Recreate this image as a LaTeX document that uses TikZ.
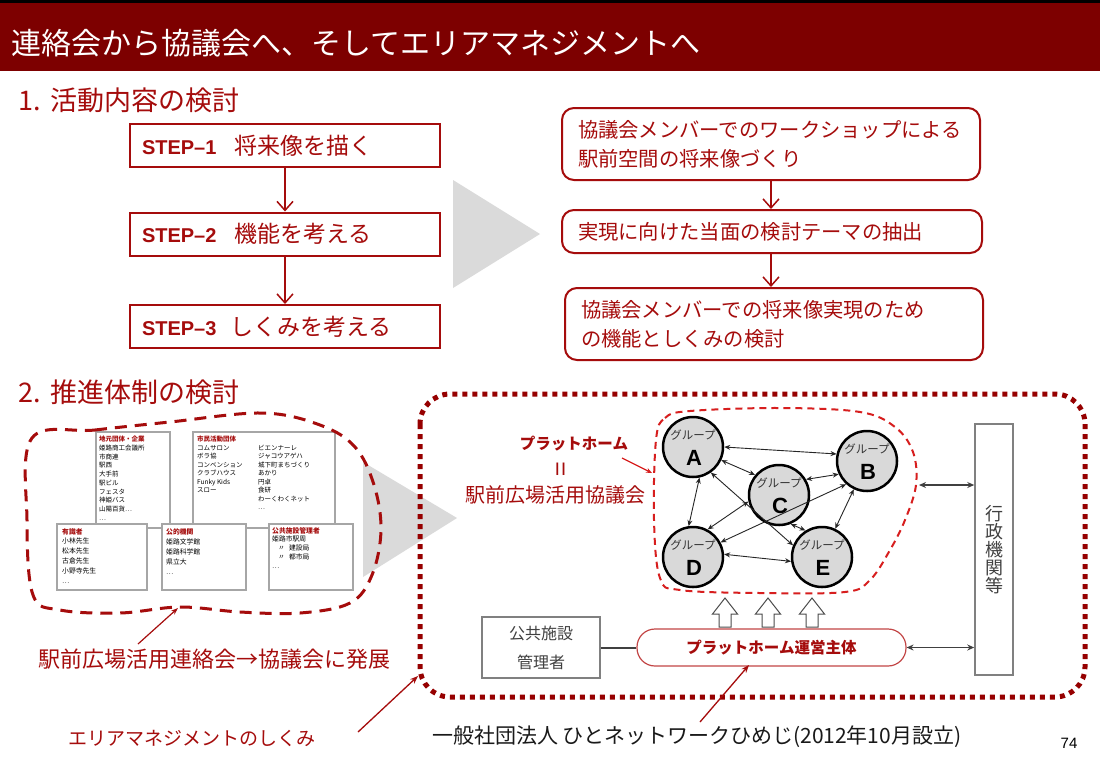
\documentclass[tikz,border=0pt]{standalone}
\usepackage{fontspec}
\setmainfont{Noto Sans CJK JP}
\newfontfamily\arialf{Liberation Sans}
\usetikzlibrary{arrows.meta,calc}
\definecolor{bar}{RGB}{125,0,0}
\definecolor{dred}{RGB}{165,12,12}
\definecolor{dotred}{RGB}{150,0,0}
\definecolor{bred}{RGB}{215,30,30}
\definecolor{ovalred}{RGB}{195,70,70}
\definecolor{gfill}{RGB}{217,217,217}
\definecolor{chev}{RGB}{218,218,218}
\definecolor{dgrey}{RGB}{64,64,64}
\definecolor{mgrey}{RGB}{128,128,128}
\begin{document}
\begin{tikzpicture}[x=1pt,y=-1pt,
  stepbox/.style={draw=dred, line width=2pt, minimum height=43pt, text width=286pt, inner xsep=12pt, align=left, text=dred, font=\fontsize{23}{26}\selectfont},
  rbox/.style={draw=dred, line width=2pt, rounded corners=12pt, align=left, text=dred, font=\fontsize{20.3}{29}\selectfont, inner xsep=16pt},
  flowarrow/.style={dred, line width=1.5pt, -{Straight Barb[length=9pt,width=16pt]}},
  grp/.style={circle, draw=black, line width=2.5pt, fill=gfill, minimum size=60pt, inner sep=0pt},
  grplabel/.style={font=\fontsize{11.5}{12}\selectfont, text=black!80, inner sep=0pt},
  grpletter/.style={font=\arialf\bfseries\fontsize{22}{22}\selectfont, inner sep=0pt},
  link/.style={black!85, line width=0.9pt, {Stealth[length=6pt,width=5pt]}-{Stealth[length=6pt,width=5pt]}},
  garrow/.style={dgrey, line width=1.5pt, {Stealth[length=7pt,width=6pt]}-{Stealth[length=7pt,width=6pt]}},
  sbox/.style={draw=black!35, line width=1.2pt, fill=white, inner sep=0pt},
  stext/.style={anchor=north west, inner sep=0pt, align=left, font=\fontsize{6.5}{8.7}\selectfont},
  redptr/.style={dred, line width=1.3pt, -{Stealth[length=8pt,width=6pt]}},
  redtext/.style={text=dred, inner sep=0pt}
]
\useasboundingbox (0,0) rectangle (1100,764);
\fill[white] (0,0) rectangle (1100,764);

% title bar
\fill[bar] (0,0) rectangle (1100,71);
\fill[black] (0,0) rectangle (1100,3);
\node[anchor=west, text=white, inner sep=0pt, font=\fontsize{30}{30}\selectfont] (title) at (11,43) {連絡会から協議会へ、そしてエリアマネジメントへ};

% section 1
\node[anchor=west, redtext, font=\fontsize{27}{27}\selectfont] (sec1) at (18,100) {1.\hspace{10pt}活動内容の検討};

\node[stepbox] (s1) at (285,145.5) {{\arialf\bfseries\fontsize{20}{24}\selectfont STEP–1}\hspace{18pt}将来像を描く};
\node[stepbox] (s2) at (285,234) {{\arialf\bfseries\fontsize{20}{24}\selectfont STEP–2}\hspace{18pt}機能を考える};
\node[stepbox] (s3) at (285,326.5) {{\arialf\bfseries\fontsize{20}{24}\selectfont STEP–3}\hspace{14pt}しくみを考える};
\draw[flowarrow] (s1.south) -- (s2.north);
\draw[flowarrow] (s2.south) -- (s3.north);

\fill[chev] (453,180) -- (540,234) -- (453,288) -- cycle;

\node[rbox, minimum height=72pt, text width=386pt] (r1) at (771,144) {協議会メンバーでのワークショップによる\\駅前空間の将来像づくり};
\node[rbox, minimum height=43pt, text width=388pt] (r2) at (772,231.5) {実現に向けた当面の検討テーマの抽出};
\node[rbox, minimum height=72pt, text width=386pt] (r3) at (774,324) {協議会メンバーでの将来像実現のため\\の機能としくみの検討};
\draw[flowarrow] (r1.south) -- (r1.south |- r2.north);
\draw[flowarrow] (r1.south |- r2.south) -- (r1.south |- r3.north);

% section 2
\node[anchor=west, redtext, font=\fontsize{27}{27}\selectfont] (sec2) at (18,392) {2.\hspace{10pt}推進体制の検討};

% left cluster boxes
\node[sbox, minimum width=74pt, minimum height=96pt] (jimoto) at (133,480) {};
\node[sbox, minimum width=142pt, minimum height=96pt] (shimin) at (264,480) {};
\node[sbox, minimum width=90pt, minimum height=66pt] (yushiki) at (102,557) {};
\node[sbox, minimum width=84pt, minimum height=66pt] (koteki) at (204,557) {};
\node[sbox, minimum width=84pt, minimum height=66pt] (kokyo) at (311,557) {};

\node[stext] (tjimoto) at (99,436) {\textcolor{dred}{\bfseries 地元団体・企業}\\姫路商工会議所\\市商連\\駅西\\大手前\\駅ビル\\フェスタ\\神姫バス\\山陽百貨…\\…};
\node[stext, font=\fontsize{6.5}{8.5}\selectfont] (tshimin1) at (197,436) {\textcolor{dred}{\bfseries 市民活動団体}\\コムサロン\\ボラ協\\コンベンション\\クラブハウス\\Funky Kids\\スロー};
\node[stext, font=\fontsize{6.5}{8.5}\selectfont] (tshimin2) at (258,444.5) {ビエンナーレ\\ジャコウアゲハ\\城下町まちづくり\\あかり\\円卓\\食研\\わーくわくネット\\…};
\node[stext, font=\fontsize{6.8}{9.9}\selectfont] (tyushiki) at (62,528) {\textcolor{dred}{\bfseries 有識者}\\小林先生\\松本先生\\古倉先生\\小野寺先生\\…};
\node[stext, font=\fontsize{6.8}{10}\selectfont] (tkoteki) at (166,528) {\textcolor{dred}{\bfseries 公的機関}\\姫路文学館\\姫路科学館\\県立大\\…};
\node[stext, font=\fontsize{6.8}{8.9}\selectfont] (tkokyo) at (272,527) {\textcolor{dred}{\bfseries 公共施設管理者}\\姫路市駅周\\\hspace{6pt}〃\hspace{4pt}建設局\\\hspace{6pt}〃\hspace{4pt}都市局\\…};

\fill[chev] (363,462) -- (457,518) -- (363,577) -- cycle;

\draw[dred, line width=3pt, dash pattern=on 12pt off 8pt] plot[smooth cycle, tension=0.6] coordinates {(32,438) (95,430) (170,422) (262,413) (320,425) (355,447) (374,485) (381,530) (372,575) (350,603) (300,613) (240,612) (180,607) (120,613) (60,610) (33,595) (27,520)};

\node[anchor=west, redtext, font=\fontsize{22}{22}\selectfont] (rtext) at (38,659) {駅前広場活用連絡会→協議会に発展};
\coordinate (rptrs) at (138,644);
\coordinate (rptre) at (178,608);
\draw[dred, line width=1.2pt, -{Stealth[length=7pt,width=5pt]}] (rptrs) -- (rptre);

% big dotted frame
\draw[dotred, line width=5pt, dash pattern=on 5pt off 5pt, rounded corners=30pt] (420,394) rectangle (1085,697);

% platform labels
\node[redtext, font=\bfseries\fontsize{15.5}{15.5}\selectfont] (pflabel) at (574,444) {プラットホーム};
\node[redtext, rotate=90, font=\fontsize{26}{26}\selectfont] (eq) at (564,469) {=};
\node[redtext, font=\fontsize{20}{20}\selectfont] (kyogikai) at (555,495) {駅前広場活用協議会};
\coordinate (pfs) at (622,458);
\coordinate (pfe) at (652,473);
\draw[bred, line width=1.2pt, -{Stealth[length=6pt,width=5pt]}] (pfs) -- (pfe);

% group blob
\draw[bred, line width=2pt, dash pattern=on 7pt off 5pt] plot[smooth cycle, tension=0.6] coordinates {(656,440) (665,418) (690,411) (780,408) (860,412) (895,427) (913,452) (916,485) (905,520) (890,550) (870,580) (845,592) (760,593) (680,590) (660,578) (654,520)};

% groups
\node[grp] (A) at (693,447) {};
\node[grp] (B) at (867,461) {};
\node[grp] (C) at (779,495) {};
\node[grp] (D) at (693,557) {};
\node[grp] (E) at (822,557) {};
\foreach \g in {A,B,C,D,E}{
  \node[grplabel] at ($(\g)+(0,-12)$) {グループ};
  \node[grpletter] at ($(\g)+(1,11)$) {\g};
}
\draw[link] (A.0) -- (B.167);
\draw[link] (A.-25) -- (C.140);
\draw[link] (A.-78) -- (D.98);
\draw[link] (A.-55) -- (E.158);
\draw[link] (C.30) -- (B.205);
\draw[link] (C.192) -- (D.62);
\draw[link] (D.28) -- (B.228);
\draw[link] (B.-115) -- (E.65);
\draw[link] (C.-68) -- (E.122);
\draw[link] (D.5) -- (E.188);

% gyosei
\node[draw=mgrey, line width=1.5pt, minimum width=38pt, minimum height=251pt, inner sep=0pt, align=center, text=dgrey, font=\fontsize{18}{18}\selectfont] (gyosei) at (994,549.5) {行\\政\\機\\関\\等};
\coordinate (blobR) at (919,485);
\draw[garrow] (blobR) -- (blobR -| gyosei.west);

% platform oval
\node[draw=ovalred, line width=1.2pt, rounded corners=18pt, minimum width=269pt, minimum height=37pt, text=dred, font=\bfseries\fontsize{15.5}{15.5}\selectfont] (pf) at (771.5,647.5) {プラットホーム運営主体};
\draw[garrow] (pf.east) -- (pf.east -| gyosei.west);

\node[draw=mgrey, line width=1.2pt, minimum width=118pt, minimum height=61pt, align=center, text=dgrey, font=\fontsize{16}{29}\selectfont] (kk) at (541,647.5) {公共施設\\管理者};
\draw[dgrey, line width=2pt] (kk.east) -- (pf.west);

\foreach \x in {725,768,812}{
  \draw[black!70, line width=1pt, fill=white] (\x,598) -- (\x+12.5,614) -- (\x+6,614) -- (\x+6,627) -- (\x-6,627) -- (\x-6,614) -- (\x-12.5,614) -- cycle;
}

% bottom texts
\node[anchor=west, redtext, font=\fontsize{19}{19}\selectfont] (amtext) at (68,738) {エリアマネジメントのしくみ};
\coordinate (ams) at (358,732);
\coordinate (ame) at (418,676);
\draw[redptr] (ams) -- (ame);

\node[anchor=west, inner sep=0pt, text=black!90, font=\fontsize{21}{21}\selectfont] (hito) at (432,737) {一般社団法人 ひとネットワークひめじ(2012年10月設立)};
\coordinate (hs) at (700,722);
\coordinate (he) at (749,665);
\draw[redptr] (hs) -- (he);

\node[anchor=center, inner sep=0pt, font=\arialf\fontsize{15}{15}\selectfont] (pg) at (1069,743) {74};
\end{tikzpicture}
\end{document}
